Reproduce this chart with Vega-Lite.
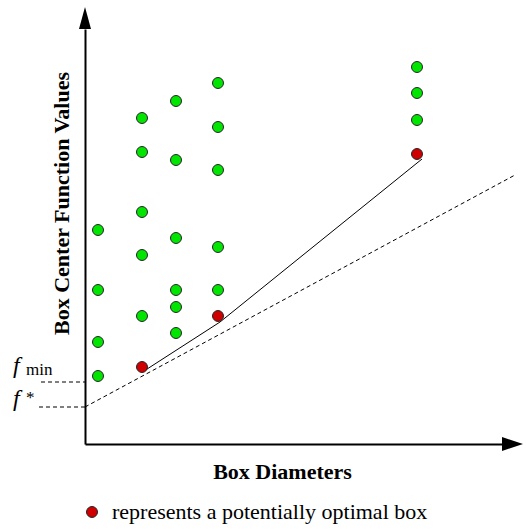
{
  "$schema": "https://vega.github.io/schema/vega-lite/v6.json",
  "width": 420,
  "height": 415,
  "autosize": {"type": "none"},
  "padding": {"left": 85, "top": 29, "right": 21, "bottom": 85},
  "background": "white",
  "config": {
    "view": {"stroke": null},
    "font": "Liberation Serif",
    "axis": {"ticks": false, "labels": false, "grid": false, "domainColor": "black", "domainWidth": 2,
      "titleFont": "Liberation Serif", "titleFontSize": 22, "titleFontWeight": "bold", "titleColor": "black"}
  },
  "layer": [
    {
      "data": {"values": [
        {"seg": "lower bound", "d": 0, "f": 37},
        {"seg": "lower bound", "d": 430, "f": 269},
        {"seg": "fmin", "d": -44, "f": 62},
        {"seg": "fmin", "d": 0, "f": 62},
        {"seg": "fstar", "d": -46, "f": 37},
        {"seg": "fstar", "d": 0, "f": 37}
      ]},
      "mark": {"type": "line", "color": "black", "strokeWidth": 1, "strokeDash": [4, 3]},
      "encoding": {
        "x": {"field": "d", "type": "quantitative", "scale": {"domain": [0, 420], "nice": false, "zero": false},
          "axis": {"title": "Box Diameters", "titleX": 197, "titleY": 34, "titleBaseline": "alphabetic", "titleAlign": "center"}},
        "y": {"field": "f", "type": "quantitative", "scale": {"domain": [0, 415], "nice": false, "zero": false},
          "axis": {"title": "Box Center Function Values", "titleX": -17, "titleY": 174, "titleBaseline": "alphabetic", "titleAlign": "center", "titleAngle": 270}},
        "detail": {"field": "seg"}
      }
    },
    {
      "data": {"values": [
        {"d": 59, "f": 73},
        {"d": 135, "f": 122},
        {"d": 337, "f": 285}
      ]},
      "mark": {"type": "line", "color": "black", "strokeWidth": 1},
      "encoding": {
        "x": {"field": "d", "type": "quantitative", "scale": {"domain": [0, 420], "nice": false, "zero": false}},
        "y": {"field": "f", "type": "quantitative", "scale": {"domain": [0, 415], "nice": false, "zero": false}}
      }
    },
    {
      "data": {"values": [
        {"d": 13, "f": 214, "type": "other"},
        {"d": 13, "f": 154, "type": "other"},
        {"d": 13, "f": 102, "type": "other"},
        {"d": 13, "f": 68, "type": "other"},
        {"d": 57, "f": 326, "type": "other"},
        {"d": 57, "f": 292, "type": "other"},
        {"d": 57, "f": 232, "type": "other"},
        {"d": 57, "f": 189, "type": "other"},
        {"d": 57, "f": 128, "type": "other"},
        {"d": 57, "f": 77, "type": "potentially optimal"},
        {"d": 91, "f": 343, "type": "other"},
        {"d": 91, "f": 284, "type": "other"},
        {"d": 91, "f": 206, "type": "other"},
        {"d": 91, "f": 154, "type": "other"},
        {"d": 91, "f": 137, "type": "other"},
        {"d": 91, "f": 111, "type": "other"},
        {"d": 133, "f": 361, "type": "other"},
        {"d": 133, "f": 317, "type": "other"},
        {"d": 133, "f": 274, "type": "other"},
        {"d": 133, "f": 197, "type": "other"},
        {"d": 133, "f": 154, "type": "other"},
        {"d": 133, "f": 128, "type": "potentially optimal"},
        {"d": 332, "f": 377, "type": "other"},
        {"d": 332, "f": 351, "type": "other"},
        {"d": 332, "f": 324, "type": "other"},
        {"d": 332, "f": 290, "type": "potentially optimal"}
      ]},
      "mark": {"type": "point", "shape": "circle", "filled": true, "size": 120, "stroke": "#222222", "strokeWidth": 1, "opacity": 1},
      "encoding": {
        "x": {"field": "d", "type": "quantitative", "scale": {"domain": [0, 420], "nice": false, "zero": false}},
        "y": {"field": "f", "type": "quantitative", "scale": {"domain": [0, 415], "nice": false, "zero": false}},
        "color": {"field": "type", "type": "nominal",
          "scale": {"domain": ["other", "potentially optimal"], "range": ["#00e600", "#d00000"]},
          "legend": {"title": null, "orient": "none", "legendX": -4, "legendY": 472, "values": ["potentially optimal"],
            "labelExpr": "'represents a ' + datum.label + ' box'", "labelFont": "Liberation Serif", "labelFontSize": 22,
            "labelColor": "black", "labelOffset": 9, "symbolSize": 120, "symbolType": "circle",
            "symbolStrokeColor": "#222222", "symbolStrokeWidth": 1, "padding": 0, "symbolOpacity": 1, "labelLimit": 500}}
      }
    },
    {
      "data": {"values": [{"d": 427.5, "f": 0}]},
      "mark": {"type": "point", "shape": "M-1,-0.667L1,0L-1,0.667Z", "filled": true, "size": 441, "color": "black", "opacity": 1},
      "encoding": {
        "x": {"field": "d", "type": "quantitative", "scale": {"domain": [0, 420], "nice": false, "zero": false}},
        "y": {"field": "f", "type": "quantitative", "scale": {"domain": [0, 415], "nice": false, "zero": false}}
      }
    },
    {
      "data": {"values": [{"d": 0, "f": 426}]},
      "mark": {"type": "point", "shape": "M-0.545,1L0,-1L0.545,1Z", "filled": true, "size": 484, "color": "black", "opacity": 1},
      "encoding": {
        "x": {"field": "d", "type": "quantitative", "scale": {"domain": [0, 420], "nice": false, "zero": false}},
        "y": {"field": "f", "type": "quantitative", "scale": {"domain": [0, 415], "nice": false, "zero": false}}
      }
    },
    {
      "data": {"values": [{"d": -72, "f": 71, "t": "f"}, {"d": -72, "f": 38, "t": "f"}]},
      "mark": {"type": "text", "font": "Liberation Serif", "fontStyle": "italic", "fontSize": 24, "align": "left", "baseline": "alphabetic", "color": "black"},
      "encoding": {
        "x": {"field": "d", "type": "quantitative", "scale": {"domain": [0, 420], "nice": false, "zero": false}},
        "y": {"field": "f", "type": "quantitative", "scale": {"domain": [0, 415], "nice": false, "zero": false}},
        "text": {"field": "t"}
      }
    },
    {
      "data": {"values": [{"d": -59, "f": 69, "t": "min"}, {"d": -59, "f": 41, "t": "*"}]},
      "mark": {"type": "text", "font": "Liberation Serif", "fontSize": 17, "align": "left", "baseline": "alphabetic", "color": "black"},
      "encoding": {
        "x": {"field": "d", "type": "quantitative", "scale": {"domain": [0, 420], "nice": false, "zero": false}},
        "y": {"field": "f", "type": "quantitative", "scale": {"domain": [0, 415], "nice": false, "zero": false}},
        "text": {"field": "t"}
      }
    }
  ]
}
